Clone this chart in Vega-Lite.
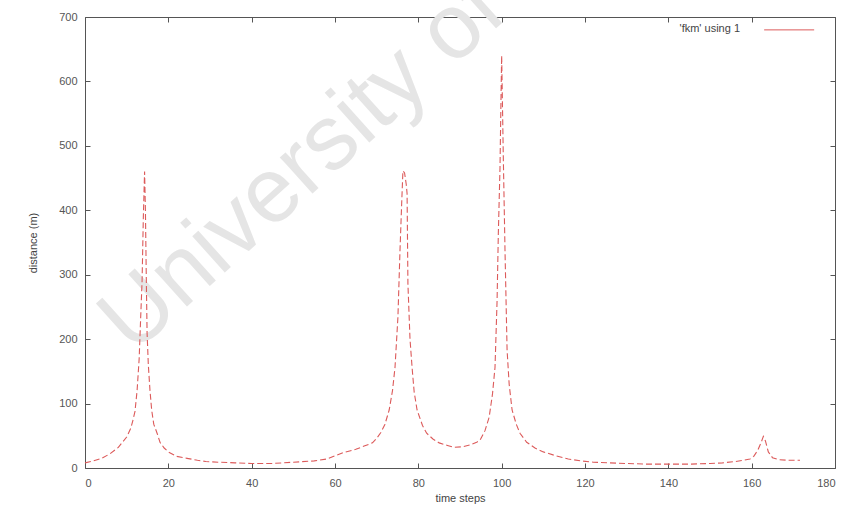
{
  "$schema": "https://vega.github.io/schema/vega-lite/v6.json",
  "autosize": {"type": "none"},
  "width": 750,
  "height": 451,
  "padding": {"left": 85, "top": 17, "right": 16, "bottom": 47},
  "background": "white",
  "config": {
    "view": {"stroke": "#555555", "strokeWidth": 1},
    "font": "Liberation Sans",
    "axis": {
      "domain": false,
      "grid": false,
      "tickSize": -5,
      "tickColor": "#555555",
      "labelColor": "#555555",
      "labelFont": "Liberation Sans",
      "labelFontSize": 11,
      "titleFont": "Liberation Sans",
      "titleFontSize": 11,
      "titleFontWeight": "normal",
      "titleColor": "#444444"
    }
  },
  "datasets": {
    "series": [
      {"t": 0, "d": 8}, {"t": 2, "d": 11}, {"t": 4, "d": 15}, {"t": 6, "d": 22}, {"t": 8, "d": 32},
      {"t": 10, "d": 48}, {"t": 11, "d": 62}, {"t": 11.5, "d": 74}, {"t": 12, "d": 88}, {"t": 12.5, "d": 120},
      {"t": 13, "d": 170}, {"t": 13.4, "d": 240}, {"t": 13.7, "d": 290}, {"t": 14, "d": 389}, {"t": 14.3, "d": 460},
      {"t": 14.5, "d": 400}, {"t": 14.7, "d": 300}, {"t": 14.9, "d": 210}, {"t": 15.2, "d": 160}, {"t": 15.6, "d": 120},
      {"t": 16, "d": 90}, {"t": 16.5, "d": 68}, {"t": 17.3, "d": 54}, {"t": 18, "d": 40}, {"t": 19, "d": 31},
      {"t": 20, "d": 25}, {"t": 22, "d": 18}, {"t": 24.5, "d": 15}, {"t": 27, "d": 12}, {"t": 29, "d": 10},
      {"t": 32, "d": 9}, {"t": 36, "d": 8}, {"t": 40, "d": 7}, {"t": 45, "d": 7}, {"t": 50, "d": 9},
      {"t": 55, "d": 11}, {"t": 58, "d": 14}, {"t": 60, "d": 19}, {"t": 62, "d": 24}, {"t": 65, "d": 29},
      {"t": 67, "d": 34}, {"t": 69, "d": 39}, {"t": 70, "d": 46}, {"t": 71, "d": 55}, {"t": 72, "d": 68},
      {"t": 73, "d": 90}, {"t": 73.8, "d": 120}, {"t": 74.4, "d": 156}, {"t": 75.1, "d": 234}, {"t": 75.6, "d": 338},
      {"t": 76, "d": 410}, {"t": 76.3, "d": 461}, {"t": 76.7, "d": 458}, {"t": 77.1, "d": 440}, {"t": 77.3, "d": 426},
      {"t": 77.5, "d": 286}, {"t": 78, "d": 200}, {"t": 78.5, "d": 156}, {"t": 79, "d": 118}, {"t": 79.7, "d": 90},
      {"t": 81, "d": 66}, {"t": 82, "d": 54}, {"t": 83.5, "d": 45}, {"t": 85, "d": 39}, {"t": 87, "d": 35},
      {"t": 88.5, "d": 32}, {"t": 90.7, "d": 33}, {"t": 92.5, "d": 36}, {"t": 94, "d": 40}, {"t": 94.8, "d": 43},
      {"t": 96, "d": 58}, {"t": 97, "d": 79}, {"t": 97.8, "d": 115}, {"t": 98.4, "d": 156}, {"t": 98.9, "d": 260},
      {"t": 99.2, "d": 364}, {"t": 99.6, "d": 466}, {"t": 99.9, "d": 600}, {"t": 100, "d": 640}, {"t": 100.2, "d": 560},
      {"t": 100.4, "d": 480}, {"t": 100.8, "d": 338}, {"t": 101.3, "d": 183}, {"t": 101.8, "d": 130}, {"t": 102.5, "d": 90},
      {"t": 103.5, "d": 68}, {"t": 104.4, "d": 54}, {"t": 106, "d": 40}, {"t": 108, "d": 31}, {"t": 110, "d": 25},
      {"t": 113, "d": 19}, {"t": 116, "d": 14}, {"t": 119, "d": 11}, {"t": 122, "d": 9}, {"t": 126, "d": 8},
      {"t": 130, "d": 7}, {"t": 135, "d": 6}, {"t": 140, "d": 6}, {"t": 145, "d": 6}, {"t": 150, "d": 7},
      {"t": 153, "d": 8}, {"t": 156, "d": 10}, {"t": 158, "d": 12}, {"t": 159.6, "d": 14}, {"t": 160.5, "d": 18},
      {"t": 161.5, "d": 28}, {"t": 162.3, "d": 40}, {"t": 162.8, "d": 49}, {"t": 163.3, "d": 42}, {"t": 164, "d": 25},
      {"t": 165, "d": 16}, {"t": 166.5, "d": 13}, {"t": 168.5, "d": 12}, {"t": 171.6, "d": 12}
    ]
  },
  "resolve": {"axis": {"x": "independent", "y": "independent"}},
  "layer": [
    {
      "data": {"values": [{"label": "University of"}]},
      "mark": {"type": "text", "angle": -42, "align": "left", "baseline": "alphabetic", "fontSize": 92, "font": "Liberation Sans", "color": "#e5e5e5"},
      "encoding": {
        "text": {"field": "label"},
        "x": {"datum": 11.5, "type": "quantitative", "scale": {"domain": [0, 180], "nice": false}, "axis": null},
        "y": {"datum": 175, "type": "quantitative", "scale": {"domain": [0, 700], "nice": false}, "axis": null}
      }
    },
    {
      "data": {"name": "series"},
      "mark": {"type": "line", "color": "#dc5a5a", "strokeWidth": 1.1, "strokeDash": [6, 3], "interpolate": "linear"},
      "encoding": {
        "x": {"field": "t", "type": "quantitative", "scale": {"domain": [0, 180], "nice": false},
              "axis": {"orient": "bottom", "values": [0, 20, 40, 60, 80, 100, 120, 140, 160, 180], "title": "time steps", "labelPadding": 14, "titlePadding": 4}},
        "y": {"field": "d", "type": "quantitative", "scale": {"domain": [0, 700], "nice": false},
              "axis": {"orient": "left", "values": [0, 100, 200, 300, 400, 500, 600, 700], "title": "distance (m)", "labelPadding": 13, "titlePadding": 20}}
      }
    },
    {
      "data": {"name": "series"},
      "mark": {"type": "line", "opacity": 0},
      "encoding": {
        "x": {"field": "t", "type": "quantitative", "scale": {"domain": [0, 180], "nice": false},
              "axis": {"orient": "top", "values": [0, 20, 40, 60, 80, 100, 120, 140, 160, 180], "labels": false, "title": null}},
        "y": {"field": "d", "type": "quantitative", "scale": {"domain": [0, 700], "nice": false},
              "axis": {"orient": "right", "values": [0, 100, 200, 300, 400, 500, 600, 700], "labels": false, "title": null}}
      }
    },
    {
      "data": {"values": [{"label": "'fkm' using 1"}]},
      "mark": {"type": "text", "align": "right", "baseline": "middle", "fontSize": 11, "font": "Liberation Sans", "color": "#444444"},
      "encoding": {
        "text": {"field": "label"},
        "x": {"datum": 157.2, "type": "quantitative", "axis": null},
        "y": {"datum": 681, "type": "quantitative", "axis": null}
      }
    },
    {
      "data": {"values": [{"label": "'fkm' using 1"}]},
      "mark": {"type": "rule", "color": "#dc5a5a", "strokeWidth": 1},
      "encoding": {
        "x": {"datum": 163, "type": "quantitative", "axis": null},
        "x2": {"datum": 175},
        "y": {"datum": 680, "type": "quantitative", "axis": null}
      }
    }
  ]
}
